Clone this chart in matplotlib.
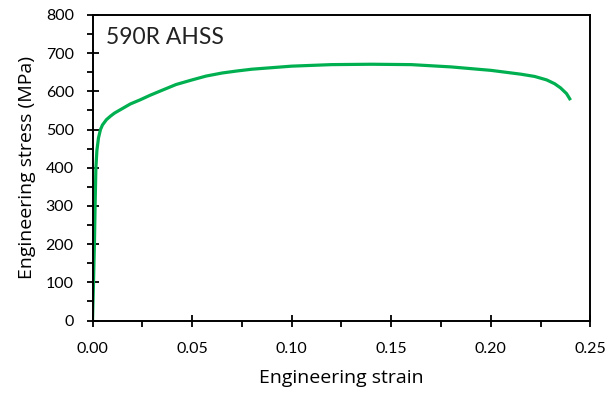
import numpy as np
import matplotlib.pyplot as plt
from matplotlib.ticker import MultipleLocator

plt.rcParams['font.family'] = ['Lato', 'DejaVu Sans']

# Kurve
strain = [0.0, 0.0005, 0.001, 0.0013, 0.0017, 0.0022, 0.003, 0.004, 0.005,
          0.007, 0.009, 0.011, 0.015, 0.019, 0.024, 0.029, 0.035, 0.042,
          0.05, 0.057, 0.065, 0.072, 0.08, 0.09, 0.10, 0.11, 0.12, 0.14,
          0.16, 0.18, 0.20, 0.215, 0.222, 0.228, 0.232, 0.235, 0.238, 0.240]
stress = [0, 100, 210, 300, 400, 445, 478, 500, 512,
          526, 535, 543, 555, 567, 578, 590, 603, 618,
          630, 640, 648, 653, 658, 662, 666, 668, 670, 671,
          670, 664, 655, 645, 639, 630, 620, 609, 594, 577]

label = '590R AHSS'

fig = plt.figure(figsize=(6.11, 3.94), dpi=100)
ax = fig.add_axes([0.1514, 0.1865, 0.8150, 0.7755])

ax.plot(strain, stress, color='#00B050', lw=2.3, solid_capstyle='butt')

ax.set_xlim(0, 0.25)
ax.set_ylim(0, 800)
ax.xaxis.set_major_locator(MultipleLocator(0.05))
ax.xaxis.set_minor_locator(MultipleLocator(0.025))
ax.yaxis.set_major_locator(MultipleLocator(100))
ax.yaxis.set_minor_locator(MultipleLocator(50))
ax.set_xticklabels([f'{v:.2f}' for v in ax.get_xticks()])

ax.tick_params(which='major', direction='inout', length=9, width=1.3,
               labelsize=11.5, colors='black')
ax.tick_params(which='minor', direction='out', length=4, width=1.3)
ax.xaxis.set_tick_params(which='major', pad=11)
ax.yaxis.set_tick_params(which='major', pad=9)
for s in ax.spines.values():
    s.set_linewidth(1.4)

lab_font = dict(family=['Open Sans', 'DejaVu Sans'], fontsize=14)
ax.set_xlabel('Engineering strain', labelpad=9, **lab_font)
ax.set_ylabel('Engineering stress (MPa)', labelpad=7, **lab_font)
ax.text(0.028, 0.925, label, transform=ax.transAxes, fontsize=16.5,
        va='center', ha='left', color='#222222')

fig.savefig('out.png', dpi=100)
